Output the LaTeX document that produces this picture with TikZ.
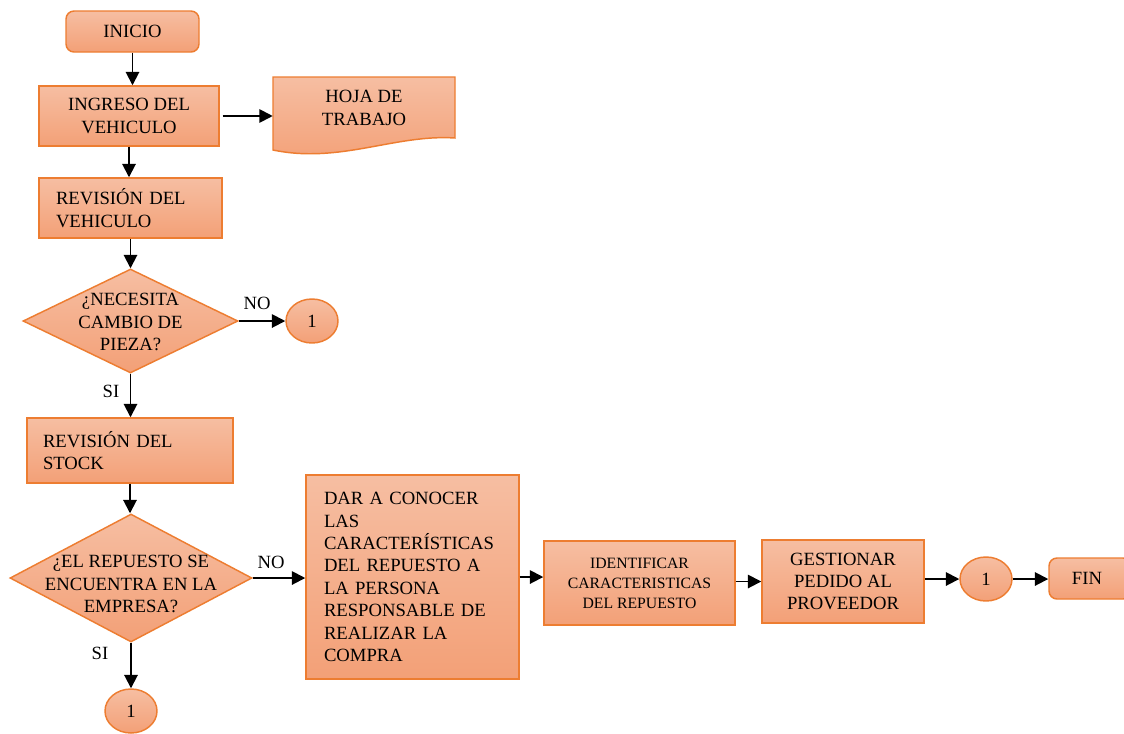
\documentclass[tikz,border=0pt]{standalone}
\usepackage{fontspec}
\setmainfont{Liberation Serif}
\usetikzlibrary{shapes.geometric,arrows.meta}
\definecolor{ob}{HTML}{ED7D31}
\definecolor{ftop}{HTML}{F6BEA2}
\definecolor{fbot}{HTML}{F3A077}
\tikzset{
  fl/.style={draw=ob,line width=1.1pt,top color=ftop,bottom color=fbot},
  proc/.style={fl,rectangle,inner sep=0pt,font=\fontsize{14}{16.8}\selectfont},
  term/.style={proc,rounded corners=6pt},
  conn/.style={fl,ellipse,inner sep=0pt,minimum width=39pt,minimum height=33pt,font=\fontsize{14}{16.8}\selectfont},
  dia/.style={fl,diamond,inner sep=0pt},
  txt/.style={font=\fontsize{14}{16.8}\selectfont,inner sep=0pt},
  arr/.style={line width=1.4pt,-{Triangle[length=10pt,width=10pt]}},
  lbl/.style={font=\fontsize{14}{16.8}\selectfont,inner sep=0pt}
}
\begin{document}
\begin{tikzpicture}[x=0.75pt,y=-0.75pt]
\useasboundingbox (0,0) rectangle (1124,733);
% nodes
\node[term,minimum width=99.75pt,minimum height=30.75pt] (inicio) at (132.5,31.5) {INICIO};
\node[proc,minimum width=135pt,minimum height=45pt,align=center] (ingreso) at (129,116) {INGRESO DEL\\VEHICULO};
\path[fl] (273,77) -- (455,77) -- (455,138) .. controls (395,134) and (340,164) .. (273,150) -- cycle;
\node[txt,minimum width=136.5pt,align=center] (hoja) at (364,108) {HOJA DE\\TRABAJO};
\node[proc,minimum width=137.25pt,minimum height=45pt,text width=111.75pt,align=left] (revveh) at (130.5,208) {REVISIÓN DEL\\VEHICULO};
\node[dia,minimum width=161.25pt,minimum height=78pt] (d1) at (130.5,321) {};
\node[txt,align=center] (d1t) at (130.5,322) {¿NECESITA\\CAMBIO DE\\PIEZA?};
\node[conn] (c1) at (312,321) {1};
\node[proc,minimum width=154.5pt,minimum height=48.75pt,text width=130.5pt,align=left] (stock) at (130,450.5) {REVISIÓN DEL\\STOCK\\[2pt]};
\node[dia,minimum width=181.5pt,minimum height=96pt] (d2) at (131,578) {};
\node[txt,align=center] (d2t) at (131,584) {¿EL REPUESTO SE\\ENCUENTRA EN LA\\EMPRESA?};
\node[conn] (c2) at (131,711) {1};
\node[proc,minimum width=159.75pt,minimum height=153pt,text width=132.75pt,align=left] (dar) at (412.5,577) {DAR A CONOCER\\LAS\\CARACTERÍSTICAS\\DEL REPUESTO A\\LA PERSONA\\RESPONSABLE DE\\REALIZAR LA\\COMPRA\\[4pt]};
\node[proc,minimum width=143.25pt,minimum height=63pt,align=center,font=\fontsize{11.8}{15}\selectfont] (ident) at (639.5,583) {IDENTIFICAR\\CARACTERISTICAS\\DEL REPUESTO};
\node[proc,minimum width=121.5pt,minimum height=62.25pt,align=center] (gest) at (843,581.5) {GESTIONAR\\PEDIDO AL\\PROVEEDOR};
\node[conn] (c3) at (986,579) {1};
\node[term,minimum width=61.5pt,minimum height=30.75pt] (fin) at (1090,578.5) {};
\node[txt] (fint) at (1087,578) {FIN};
% labels
\node[lbl] (no1) at (257,303) {NO};
\node[lbl] (si1) at (111,391) {SI};
\node[lbl] (no2) at (271,562) {NO};
\node[lbl] (si2) at (100,653) {SI};
% connectors
\draw[arr] (inicio.south) -- (inicio.south |- ingreso.north);
\draw[arr] ([xshift=2.25pt]ingreso.east) -- (hoja.west |- ingreso.east);
\draw[arr] (ingreso.south) -- (ingreso.south |- revveh.north);
\draw[arr] (revveh.south) -- (d1.north);
\draw[arr] (d1.east) -- (d1.east -| c1.west);
\draw[arr] (d1.south) -- (d1.south |- stock.north);
\draw[arr] (stock.south) -- (stock.south |- d2.north);
\draw[arr] (d2.east) -- (dar.west |- d2.east);
\draw[arr] (d2.south) -- (c2.north);
\draw[arr] (dar.east) -- (ident.west |- dar.east);
\draw[arr] (ident.east |- gest.west) -- (gest.west);
\draw[arr] (gest.east |- c3.west) -- (c3.west);
\draw[arr] (c3.east) -- (c3.east -| fin.west);
\end{tikzpicture}
\end{document}
